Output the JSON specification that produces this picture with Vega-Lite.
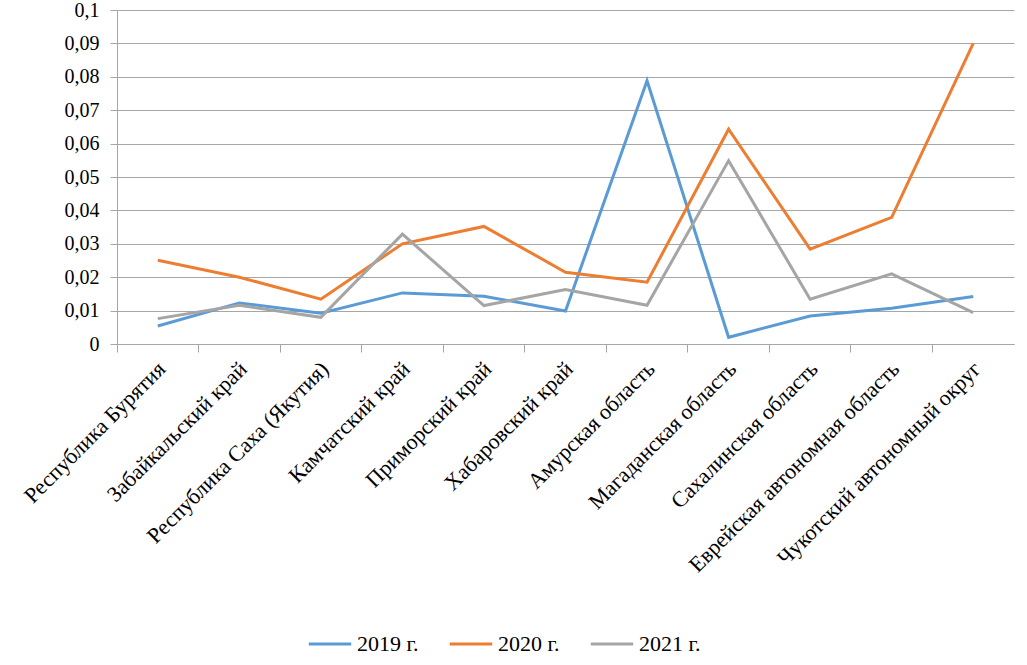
{
  "$schema": "https://vega.github.io/schema/vega-lite/v6.json",
  "width": 897,
  "height": 334,
  "autosize": {"type": "none"},
  "padding": {"left": 117, "top": 10, "right": 13, "bottom": 321},
  "config": {"font": "Liberation Serif", "view": {"stroke": null}},
  "data": {
    "values": [
      {"region": "Республика Бурятия", "year": "2019 г.", "value": 0.0054},
      {"region": "Забайкальский край", "year": "2019 г.", "value": 0.0123},
      {"region": "Республика Саха (Якутия)", "year": "2019 г.", "value": 0.0092},
      {"region": "Камчатский край", "year": "2019 г.", "value": 0.0153},
      {"region": "Приморский край", "year": "2019 г.", "value": 0.0143},
      {"region": "Хабаровский край", "year": "2019 г.", "value": 0.0099},
      {"region": "Амурская область", "year": "2019 г.", "value": 0.0788},
      {"region": "Магаданская область", "year": "2019 г.", "value": 0.0020},
      {"region": "Сахалинская область", "year": "2019 г.", "value": 0.0084},
      {"region": "Еврейская автономная область", "year": "2019 г.", "value": 0.0107},
      {"region": "Чукотский автономный округ", "year": "2019 г.", "value": 0.0142},
      {"region": "Республика Бурятия", "year": "2020 г.", "value": 0.0251},
      {"region": "Забайкальский край", "year": "2020 г.", "value": 0.0200},
      {"region": "Республика Саха (Якутия)", "year": "2020 г.", "value": 0.0134},
      {"region": "Камчатский край", "year": "2020 г.", "value": 0.0300},
      {"region": "Приморский край", "year": "2020 г.", "value": 0.0352},
      {"region": "Хабаровский край", "year": "2020 г.", "value": 0.0215},
      {"region": "Амурская область", "year": "2020 г.", "value": 0.0185},
      {"region": "Магаданская область", "year": "2020 г.", "value": 0.0643},
      {"region": "Сахалинская область", "year": "2020 г.", "value": 0.0284},
      {"region": "Еврейская автономная область", "year": "2020 г.", "value": 0.0379},
      {"region": "Чукотский автономный округ", "year": "2020 г.", "value": 0.0900},
      {"region": "Республика Бурятия", "year": "2021 г.", "value": 0.0076},
      {"region": "Забайкальский край", "year": "2021 г.", "value": 0.0116},
      {"region": "Республика Саха (Якутия)", "year": "2021 г.", "value": 0.0080},
      {"region": "Камчатский край", "year": "2021 г.", "value": 0.0329},
      {"region": "Приморский край", "year": "2021 г.", "value": 0.0115},
      {"region": "Хабаровский край", "year": "2021 г.", "value": 0.0163},
      {"region": "Амурская область", "year": "2021 г.", "value": 0.0116},
      {"region": "Магаданская область", "year": "2021 г.", "value": 0.0549},
      {"region": "Сахалинская область", "year": "2021 г.", "value": 0.0134},
      {"region": "Еврейская автономная область", "year": "2021 г.", "value": 0.0210},
      {"region": "Чукотский автономный округ", "year": "2021 г.", "value": 0.0094}
    ]
  },
  "mark": {"type": "line", "strokeWidth": 3},
  "encoding": {
    "x": {
      "field": "region",
      "type": "nominal",
      "sort": null,
      "scale": {"type": "band", "paddingInner": 0, "paddingOuter": 0},
      "axis": {
        "title": null,
        "bandPosition": 0,
        "labelOffset": 4,
        "labelAngle": -45,
        "labelAlign": "right",
        "labelBaseline": "middle",
        "labelFont": "Liberation Serif",
        "labelFontSize": 22,
        "labelColor": "#000000",
        "labelPadding": 13,
        "labelLimit": 400,
        "tickSize": 8,
        "tickColor": "#A6A6A6",
        "domainColor": "#A6A6A6",
        "grid": false
      }
    },
    "y": {
      "field": "value",
      "type": "quantitative",
      "scale": {"domain": [0, 0.1], "nice": false, "zero": true},
      "axis": {
        "title": null,
        "values": [0, 0.01, 0.02, 0.03, 0.04, 0.05, 0.06, 0.07, 0.08, 0.09, 0.1],
        "labelExpr": "replace(format(datum.value, '.2~f'), '.', ',')",
        "labelFont": "Liberation Serif",
        "labelFontSize": 20,
        "labelColor": "#000000",
        "labelPadding": 11,
        "tickSize": 7,
        "tickColor": "#A6A6A6",
        "domainColor": "#A6A6A6",
        "gridColor": "#A6A6A6",
        "gridWidth": 1
      }
    },
    "color": {
      "field": "year",
      "type": "nominal",
      "scale": {"domain": ["2019 г.", "2020 г.", "2021 г."], "range": ["#5B9BD5", "#ED7D31", "#A5A5A5"]},
      "legend": {
        "title": null,
        "orient": "none",
        "legendX": 190,
        "legendY": 611,
        "direction": "horizontal",
        "symbolType": "stroke",
        "symbolSize": 1800,
        "symbolStrokeWidth": 3,
        "labelFont": "Liberation Serif",
        "labelFontSize": 22,
        "labelColor": "#000000",
        "labelOffset": 4,
        "columnPadding": 24
      }
    }
  }
}
